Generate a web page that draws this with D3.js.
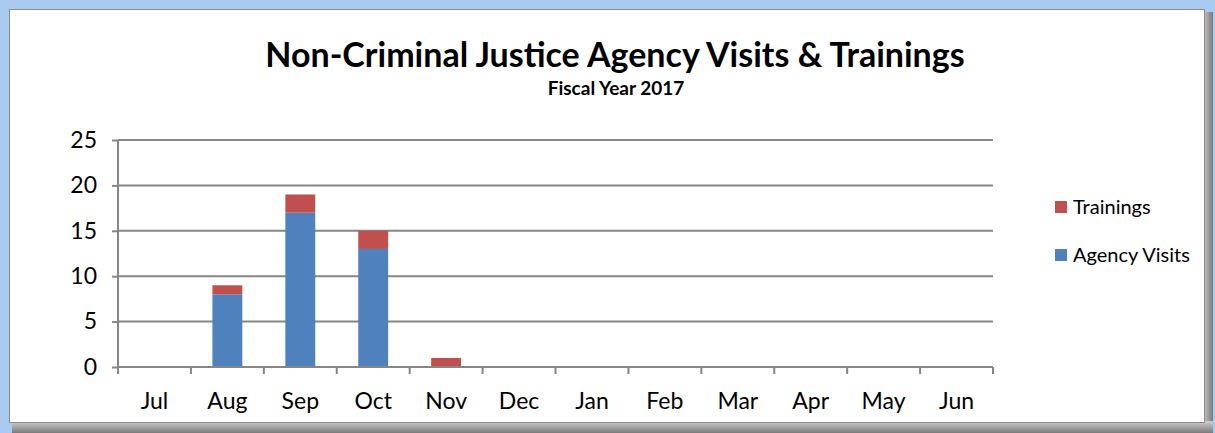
<!DOCTYPE html>
<html>
<head>
<meta charset="utf-8">
<script src="https://cdn.jsdelivr.net/npm/d3@7"></script>
<style>
  html, body { margin: 0; padding: 0; background: #a9cbf2; }
  svg { display: block; }
</style>
</head>
<body>
<svg id="chart" width="1215" height="433"></svg>
<script>
const months = ["Jul","Aug","Sep","Oct","Nov","Dec","Jan","Feb","Mar","Apr","May","Jun"]
const agencyVisits = [0, 8, 17, 13, 0, 0, 0, 0, 0, 0, 0, 0]
const trainings = [0, 1, 2, 2, 1, 0, 0, 0, 0, 0, 0, 0]
const yTicks = [0, 5, 10, 15, 20, 25]
const seriesNames = ["Agency Visits", "Trainings"]
const seriesColors = ["#4f81bd", "#c0504d"]

var svg = d3.select("#chart")
var font = "Lato, 'Open Sans', sans-serif"

// background frame
var defs = svg.append("defs")
var gr = defs.append("linearGradient").attr("id","shadowR").attr("x1",0).attr("x2",1).attr("y1",0).attr("y2",0)
gr.append("stop").attr("offset",0).attr("stop-color","#c8c8c8")
gr.append("stop").attr("offset",1).attr("stop-color","#7a7a7a")
var gb = defs.append("linearGradient").attr("id","shadowB").attr("x1",0).attr("x2",0).attr("y1",0).attr("y2",1)
gb.append("stop").attr("offset",0).attr("stop-color","#d0d0d0")
gb.append("stop").attr("offset",1).attr("stop-color","#7a7a7a")

svg.append("rect").attr("x",0).attr("y",0).attr("width",1215).attr("height",433).attr("fill","#a9cbf2")
svg.append("rect").attr("x",1203).attr("y",12).attr("width",10).attr("height",421).attr("fill","url(#shadowR)")
svg.append("rect").attr("x",12).attr("y",421).attr("width",1201).attr("height",12).attr("fill","url(#shadowB)")
svg.append("rect").attr("x",9.5).attr("y",9.5).attr("width",1195).attr("height",413)
  .attr("fill","#ffffff").attr("stroke","#8c8c8c").attr("stroke-width",1)

// titles
svg.append("text").attr("x",615).attr("y",67).attr("text-anchor","middle")
  .style("font-family",font).style("font-weight","bold").style("font-size","34px").attr("fill","#000")
  .text("Non-Criminal Justice Agency Visits & Trainings")
svg.append("text").attr("x",616).attr("y",95).attr("text-anchor","middle")
  .style("font-family",font).style("font-weight","bold").style("font-size","19px").attr("fill","#000")
  .text("Fiscal Year 2017")

var plotL = 118, plotR = 993, plotT = 140, plotB = 367

var x = d3.scaleBand().domain(months).range([plotL, plotR]).paddingInner(0).paddingOuter(0)
var y = d3.scaleLinear().domain([0, 25]).range([plotB, plotT])

// gridlines
svg.append("g").selectAll("line").data(yTicks.filter(d => d > 0)).enter().append("line")
  .attr("x1", plotL).attr("x2", plotR).attr("y1", d => y(d)).attr("y2", d => y(d))
  .attr("stroke","#868686").attr("stroke-width",2)

// stacked bars
var rows = months.map(function(m, i) {
  return {month: m, "Agency Visits": agencyVisits[i], "Trainings": trainings[i]}
})
var stack = d3.stack().keys(seriesNames)(rows)
var barW = x.bandwidth() * 0.41
svg.append("g").selectAll("g").data(stack).enter().append("g")
  .attr("fill", (d, i) => seriesColors[i])
  .selectAll("rect").data(d => d).enter().append("rect")
  .attr("x", d => x(d.data.month) + (x.bandwidth() - barW) / 2)
  .attr("width", barW)
  .attr("y", d => y(d[1]))
  .attr("height", d => y(d[0]) - y(d[1]))

// y axis
var yAxis = svg.append("g").attr("transform","translate(" + plotL + ",0)")
  .call(d3.axisLeft(y).tickValues(yTicks).tickSize(6).tickPadding(15))
yAxis.select(".domain").attr("stroke","#868686").attr("stroke-width",2).attr("d","M0," + plotT + "V" + plotB)
yAxis.selectAll(".tick line").attr("stroke","#868686").attr("stroke-width",2)
yAxis.selectAll("text").style("font-family",font).style("font-size","23px").attr("fill","#000")

// x axis
var xAxis = svg.append("g").attr("transform","translate(0," + plotB + ")")
  .call(d3.axisBottom(x).tickSize(0).tickPadding(26))
xAxis.select(".domain").attr("stroke","#868686").attr("stroke-width",2).attr("d","M" + plotL + ",0H" + plotR)
xAxis.selectAll("text").style("font-family",font).style("font-size","23px").attr("fill","#000")
var bounds = months.map(m => x(m)).concat([plotR])
xAxis.selectAll(".sep").data(bounds).enter().append("line").attr("class","sep")
  .attr("x1", d => d).attr("x2", d => d).attr("y1", 0).attr("y2", 7)
  .attr("stroke","#868686").attr("stroke-width",2)

// legend
var legend = svg.append("g")
var legendItems = [{name:"Trainings", color: seriesColors[1], y: 207}, {name:"Agency Visits", color: seriesColors[0], y: 255}]
legend.selectAll("rect").data(legendItems).enter().append("rect")
  .attr("x",1055).attr("y", d => d.y - 6).attr("width",12).attr("height",12).attr("fill", d => d.color)
legend.selectAll("text").data(legendItems).enter().append("text")
  .attr("x",1073).attr("y", d => d.y + 7)
  .style("font-family",font).style("font-size","20px").attr("fill","#000")
  .text(d => d.name)
</script>
</body>
</html>
